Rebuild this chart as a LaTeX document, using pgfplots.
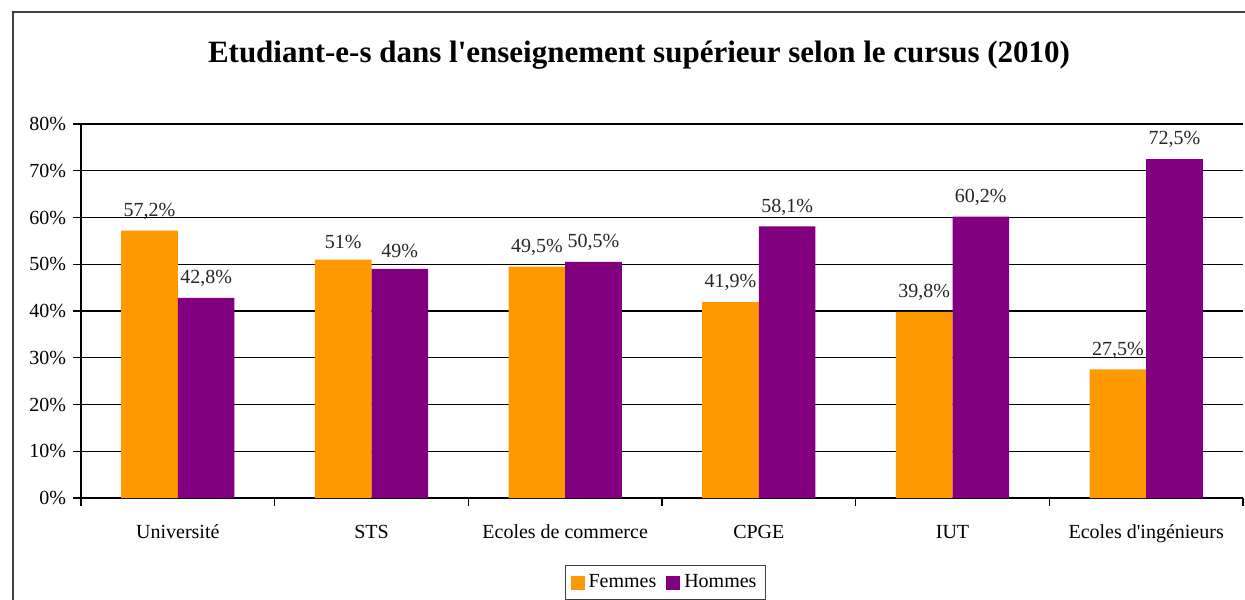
\documentclass[border=0pt]{standalone}
\usepackage{pgfplots}
\pgfplotsset{compat=1.18}
\usepackage{pgfplotstable}
\usepackage{fontspec}
\setmainfont{Liberation Serif}
\definecolor{femmes}{HTML}{FF9900}
\definecolor{hommes}{HTML}{800080}
\pgfplotstableread{
x y lab
0 57.2 57,2\%
1 51 51\%
2 49.5 49,5\%
3 41.9 41,9\%
4 39.8 39,8\%
5 27.5 27,5\%
}\femmes
\pgfplotstableread{
x y lab
0 42.8 42,8\%
1 49 49\%
2 50.5 50,5\%
3 58.1 58,1\%
4 60.2 60,2\%
5 72.5 72,5\%
}\hommes
\begin{document}
\begin{tikzpicture}
\path[use as bounding box] (0pt,0pt) rectangle (622.5pt,299.5pt);
\draw[black!75, line width=0.7pt] (6.5pt,-20pt) -- (6.5pt,293.5pt) -- (650pt,293.5pt);
\node[font=\bfseries\fontsize{15.5}{18}\selectfont] at (319.5pt,272pt) {Etudiant-e-s dans l\textquotesingle enseignement supérieur selon le cursus (2010)};
\begin{axis}[
  at={(40.5pt,50.5pt)}, anchor=south west,
  scale only axis, width=581pt, height=187pt,
  xmin=-0.5, xmax=5.5, ymin=0, ymax=80,
  ybar=0pt, bar width=28.3pt,
  axis x line*=bottom, axis y line*=left,
  axis line style={black, line width=0.7pt},
  xtick={0,...,5},
  xticklabels={Université, STS, Ecoles de commerce, CPGE, IUT, Ecoles d\textquotesingle ingénieurs},
  major x tick style={draw=none},
  minor xtick={-0.5,0.5,...,5.5},
  minor x tick style={black, line width=0.7pt},
  minor tick length=4pt,
  ytick={0,10,...,80},
  yticklabel={\pgfmathprintnumber{\tick}\%},
  major tick length=4pt,
  tick align=outside,
  ytick style={black, line width=0.7pt},
  ymajorgrids, grid style={black, line width=0.6pt},
  tick label style={font=\fontsize{10}{12}\selectfont},
  xticklabel style={yshift=-6pt},
  /pgf/number format/assume math mode=true,
  nodes near coords,
  point meta=explicit symbolic,
  every node near coord/.append style={font=\fontsize{10}{12}\selectfont, color=black!85, yshift=2pt},
  legend style={at={(0.503,-0.179)}, anchor=north, legend columns=2, draw=black!75, line width=0.7pt, font=\fontsize{10}{12}\selectfont, inner sep=2.5pt, /tikz/every even column/.append style={column sep=3pt}},
  legend image code/.code={\fill[#1] (0pt,-3.5pt) rectangle (7pt,3.5pt);},
]
\addplot[fill=femmes, draw=none] table[x=x, y=y, meta=lab] {\femmes};
\addplot[fill=hommes, draw=none] table[x=x, y=y, meta=lab] {\hommes};
\legend{Femmes, Hommes}
\end{axis}
\end{tikzpicture}
\end{document}
